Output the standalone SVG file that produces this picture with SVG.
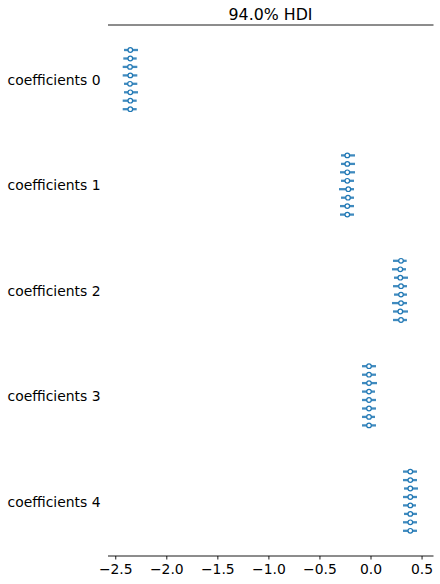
<svg xmlns="http://www.w3.org/2000/svg" width="440" height="584" viewBox="0 0 440 584">
<style>
text{font-family:"DejaVu Sans","Liberation Sans",sans-serif;fill:#000}
.lbl{font-size:13.9px;text-anchor:end}
.tick{font-size:13.9px;text-anchor:middle}
.title{font-size:15.8px;text-anchor:middle}
.ax{stroke:#000;stroke-width:0.9;fill:none}
.hdi{stroke:#1f77b4;stroke-width:2.3;stroke-linecap:butt;stroke-opacity:0.85}
.pt{fill:#fff;stroke:#1f77b4;stroke-width:1.2}
</style>
<rect width="440" height="584" fill="#fff"/>
<g id="axes">
<line class="ax" x1="108" y1="25" x2="433.5" y2="25"/>
<text class="title" x="270.5" y="20">94.0% HDI</text>
<line class="ax" x1="108" y1="556" x2="433.5" y2="556"/>
<g class="ax">
<line x1="115.75" y1="556" x2="115.75" y2="559.5"/>
<line x1="166.8" y1="556" x2="166.8" y2="559.5"/>
<line x1="217.85" y1="556" x2="217.85" y2="559.5"/>
<line x1="268.9" y1="556" x2="268.9" y2="559.5"/>
<line x1="319.95" y1="556" x2="319.95" y2="559.5"/>
<line x1="371" y1="556" x2="371" y2="559.5"/>
<line x1="422.05" y1="556" x2="422.05" y2="559.5"/>
</g>
<text class="tick" x="115.75" y="574">−2.5</text>
<text class="tick" x="166.8" y="574">−2.0</text>
<text class="tick" x="217.85" y="574">−1.5</text>
<text class="tick" x="268.9" y="574">−1.0</text>
<text class="tick" x="319.95" y="574">−0.5</text>
<text class="tick" x="371" y="574">0.0</text>
<text class="tick" x="422.05" y="574">0.5</text>
</g>
<g id="coef0">
<text class="lbl" x="100.5" y="85">coefficients 0</text>
<line class="hdi" x1="124" y1="50" x2="138" y2="50"/><circle class="pt" cx="130.3" cy="50" r="2.3"/>
<line class="hdi" x1="123.3" y1="58.5" x2="136.7" y2="58.5"/><circle class="pt" cx="130.3" cy="58.5" r="2.3"/>
<line class="hdi" x1="122.7" y1="66.9" x2="137.3" y2="66.9"/><circle class="pt" cx="130" cy="66.9" r="2.3"/>
<line class="hdi" x1="122.7" y1="75.4" x2="137.3" y2="75.4"/><circle class="pt" cx="130.3" cy="75.4" r="2.3"/>
<line class="hdi" x1="124" y1="83.8" x2="137.3" y2="83.8"/><circle class="pt" cx="130" cy="83.8" r="2.3"/>
<line class="hdi" x1="124" y1="92.3" x2="138" y2="92.3"/><circle class="pt" cx="130.3" cy="92.3" r="2.3"/>
<line class="hdi" x1="122.7" y1="100.7" x2="136.7" y2="100.7"/><circle class="pt" cx="130.3" cy="100.7" r="2.3"/>
<line class="hdi" x1="122.7" y1="109.2" x2="136.7" y2="109.2"/><circle class="pt" cx="130.3" cy="109.2" r="2.3"/>
</g>
<g id="coef1">
<text class="lbl" x="100.5" y="190.4">coefficients 1</text>
<line class="hdi" x1="341" y1="155.4" x2="355" y2="155.4"/><circle class="pt" cx="347.3" cy="155.4" r="2.3"/>
<line class="hdi" x1="341" y1="163.9" x2="355" y2="163.9"/><circle class="pt" cx="347.3" cy="163.9" r="2.3"/>
<line class="hdi" x1="340" y1="172.3" x2="355" y2="172.3"/><circle class="pt" cx="347.3" cy="172.3" r="2.3"/>
<line class="hdi" x1="341" y1="180.8" x2="354" y2="180.8"/><circle class="pt" cx="347.3" cy="180.8" r="2.3"/>
<line class="hdi" x1="339" y1="189.2" x2="354" y2="189.2"/><circle class="pt" cx="348.3" cy="189.2" r="2.3"/>
<line class="hdi" x1="341" y1="197.7" x2="354" y2="197.7"/><circle class="pt" cx="348" cy="197.7" r="2.3"/>
<line class="hdi" x1="340" y1="206.1" x2="354" y2="206.1"/><circle class="pt" cx="347.3" cy="206.1" r="2.3"/>
<line class="hdi" x1="340" y1="214.6" x2="354" y2="214.6"/><circle class="pt" cx="347.3" cy="214.6" r="2.3"/>
</g>
<g id="coef2">
<text class="lbl" x="100.5" y="295.8">coefficients 2</text>
<line class="hdi" x1="393" y1="260.8" x2="406.7" y2="260.8"/><circle class="pt" cx="401" cy="260.8" r="2.3"/>
<line class="hdi" x1="392" y1="269.3" x2="406" y2="269.3"/><circle class="pt" cx="400.3" cy="269.3" r="2.3"/>
<line class="hdi" x1="394" y1="277.7" x2="408" y2="277.7"/><circle class="pt" cx="400.3" cy="277.7" r="2.3"/>
<line class="hdi" x1="393" y1="286.2" x2="407" y2="286.2"/><circle class="pt" cx="401" cy="286.2" r="2.3"/>
<line class="hdi" x1="394" y1="294.6" x2="407" y2="294.6"/><circle class="pt" cx="401" cy="294.6" r="2.3"/>
<line class="hdi" x1="392" y1="303.1" x2="407" y2="303.1"/><circle class="pt" cx="401" cy="303.1" r="2.3"/>
<line class="hdi" x1="393" y1="311.5" x2="408" y2="311.5"/><circle class="pt" cx="400.3" cy="311.5" r="2.3"/>
<line class="hdi" x1="393" y1="320" x2="407" y2="320"/><circle class="pt" cx="401" cy="320" r="2.3"/>
</g>
<g id="coef3">
<text class="lbl" x="100.5" y="401.2">coefficients 3</text>
<line class="hdi" x1="362" y1="366.2" x2="376" y2="366.2"/><circle class="pt" cx="369" cy="366.2" r="2.3"/>
<line class="hdi" x1="362" y1="374.7" x2="376" y2="374.7"/><circle class="pt" cx="369" cy="374.7" r="2.3"/>
<line class="hdi" x1="362" y1="383.1" x2="377" y2="383.1"/><circle class="pt" cx="369" cy="383.1" r="2.3"/>
<line class="hdi" x1="362" y1="391.6" x2="375" y2="391.6"/><circle class="pt" cx="369" cy="391.6" r="2.3"/>
<line class="hdi" x1="362" y1="400" x2="376" y2="400"/><circle class="pt" cx="369" cy="400" r="2.3"/>
<line class="hdi" x1="362" y1="408.5" x2="376" y2="408.5"/><circle class="pt" cx="369" cy="408.5" r="2.3"/>
<line class="hdi" x1="362" y1="416.9" x2="375" y2="416.9"/><circle class="pt" cx="369" cy="416.9" r="2.3"/>
<line class="hdi" x1="362" y1="425.4" x2="376" y2="425.4"/><circle class="pt" cx="369" cy="425.4" r="2.3"/>
</g>
<g id="coef4">
<text class="lbl" x="100.5" y="506.6">coefficients 4</text>
<line class="hdi" x1="403" y1="471.6" x2="417" y2="471.6"/><circle class="pt" cx="410.3" cy="471.6" r="2.3"/>
<line class="hdi" x1="403" y1="480.1" x2="417" y2="480.1"/><circle class="pt" cx="410.3" cy="480.1" r="2.3"/>
<line class="hdi" x1="404" y1="488.5" x2="418" y2="488.5"/><circle class="pt" cx="410.3" cy="488.5" r="2.3"/>
<line class="hdi" x1="403" y1="497" x2="417" y2="497"/><circle class="pt" cx="410.3" cy="497" r="2.3"/>
<line class="hdi" x1="403" y1="505.4" x2="416" y2="505.4"/><circle class="pt" cx="410.3" cy="505.4" r="2.3"/>
<line class="hdi" x1="404" y1="513.9" x2="417" y2="513.9"/><circle class="pt" cx="410.3" cy="513.9" r="2.3"/>
<line class="hdi" x1="403" y1="522.3" x2="417" y2="522.3"/><circle class="pt" cx="410.3" cy="522.3" r="2.3"/>
<line class="hdi" x1="403" y1="530.8" x2="417" y2="530.8"/><circle class="pt" cx="410.3" cy="530.8" r="2.3"/>
</g>
</svg>
